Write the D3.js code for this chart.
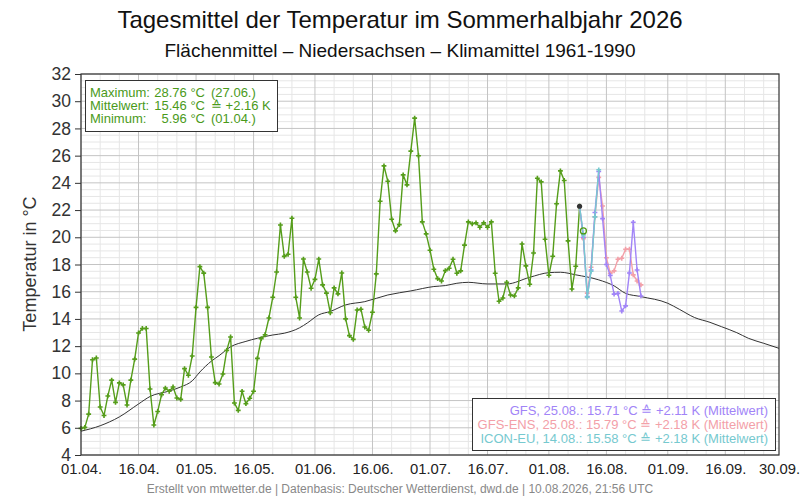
<!DOCTYPE html>
<html><head><meta charset="utf-8">
<script src="https://cdn.jsdelivr.net/npm/d3@7"></script>
<style>
body{margin:0;background:#fff;}
svg text{font-family:"Liberation Sans",Arial,Helvetica,sans-serif;}
</style>
</head><body>
<svg id="c" width="800" height="500"></svg>
<script>
// ---------- data ----------
const startDate = "2026-04-01";
const endDate = "2026-09-30";
const observed = [
  5.96, 6.03, 7.0, 11.0, 11.13, 7.53, 6.9, 8.34, 9.5, 7.87,
  9.3, 9.15, 7.67, 9.5, 11.05, 12.97, 13.3, 13.3, 8.85, 6.2,
  7.2, 8.43, 8.92, 8.68, 9.0, 8.19, 8.09, 10.35, 9.86, 11.28,
  14.85, 17.84, 17.37, 14.85, 11.2, 9.32, 9.22, 9.95, 11.69, 12.67,
  7.82, 7.28, 8.68, 7.77, 8.17, 8.68, 11.1, 12.55, 12.84, 14.07,
  15.59, 17.45, 20.9, 18.6, 18.75, 21.4, 15.59, 14.07, 18.4, 17.45,
  16.25, 16.91, 18.4, 16.5, 15.9, 14.45, 16.28, 15.84, 17.38, 14.0,
  12.77, 12.5, 14.66, 14.71, 13.41, 13.17, 14.49, 17.31, 22.65, 25.25,
  24.12, 21.33, 20.47, 20.93, 24.59, 23.85, 26.33, 28.76, 25.99, 21.13,
  20.25, 19.05, 17.65, 16.96, 16.79, 17.55, 17.72, 18.39, 17.36, 17.53,
  19.42, 21.13, 20.99, 21.06, 20.74, 21.06, 20.74, 21.13, 17.36, 15.3,
  15.54, 16.69, 15.76, 15.69, 16.28, 19.51, 17.9, 16.55, 18.85, 24.34,
  24.07, 19.86, 17.21, 18.61, 22.46, 24.88, 24.17, 19.74, 16.2, 17.87,
  22.28
];
const todayDate = "2026-08-10";
const todayValue = 20.47;
const forecastStart = "2026-08-09";
const gfs    = [22.28, 20.0, 15.64, 17.6, 21.82, 24.83, 21.37, 18.0, 17.2, 15.82, 15.88, 14.58, 14.96, 17.38, 21.1, 17.6, 15.69];
const gfsEns = [22.28, 19.9, 15.9, 17.8, 21.5, 24.4, 22.3, 18.5, 17.36, 17.53, 18.39, 18.46, 19.12, 19.12, 17.24, 16.79, 16.5];
const iconEu = [22.28, 20.18, 15.6, 17.5, 21.5, 24.96];
const climDays   = [0, 5, 10, 15, 18, 23, 26, 29, 31, 34, 36, 39, 43, 46, 50, 53, 57, 59, 62, 65, 69, 74, 80, 86, 92, 95, 98, 101, 106, 111, 117, 122, 125, 129, 135, 139, 142, 146, 153, 156, 160, 164, 167, 171, 174, 178, 182];
const climValues = [5.75, 6.15, 6.8, 7.75, 8.3, 8.7, 9.0, 9.45, 10.1, 10.9, 11.3, 11.95, 12.35, 12.58, 12.82, 12.95, 13.35, 13.7, 14.3, 14.55, 15.03, 15.27, 15.76, 16.06, 16.38, 16.45, 16.62, 16.69, 16.57, 16.57, 17.06, 17.4, 17.43, 17.24, 16.87, 16.43, 15.88, 15.64, 15.15, 14.71, 14.1, 13.75, 13.43, 12.99, 12.58, 12.21, 11.84];
const yTicks = [4, 6, 8, 10, 12, 14, 16, 18, 20, 22, 24, 26, 28, 30, 32];
const xTickDates  = ["2026-04-01","2026-04-16","2026-05-01","2026-05-16","2026-06-01","2026-06-16","2026-07-01","2026-07-16","2026-08-01","2026-08-16","2026-09-01","2026-09-16","2026-09-30"];
const xTickLabels = ["01.04.","16.04.","01.05.","16.05.","01.06.","16.06.","01.07.","16.07.","01.08.","16.08.","01.09.","16.09.","30.09."];
const infoLines = [
  ["Maximum:", "28.76 °C", "(27.06.)"],
  ["Mittelwert:", "15.46 °C", "≙ +2.16 K"],
  ["Minimum:", "5.96 °C", "(01.04.)"]
];
const legendItems = [
  {text: "GFS, 25.08.: 15.71 °C  ≙ +2.11 K (Mittelwert)", color: "#a184f7"},
  {text: "GFS-ENS, 25.08.: 15.79 °C  ≙ +2.18 K (Mittelwert)", color: "#f3a0a8"},
  {text: "ICON-EU, 14.08.: 15.58 °C  ≙ +2.18 K (Mittelwert)", color: "#76c9cf"}
];
const titleText = "Tagesmittel der Temperatur im Sommerhalbjahr 2026";
const subtitleText = "Flächenmittel – Niedersachsen – Klimamittel 1961-1990";
const footerText = "Erstellt von mtwetter.de | Datenbasis: Deutscher Wetterdienst, dwd.de | 10.08.2026, 21:56 UTC";

// ---------- chart ----------
const svg = d3.select("#c");
const L = 81, R = 779, T = 74, B = 455;
const parse = d3.utcParse("%Y-%m-%d");
const d0 = parse(startDate);
const x = d3.scaleUtc().domain([d0, parse(endDate)]).range([L, R]);
const y = d3.scaleLinear().domain([4, 32]).range([B, T]);

svg.append("rect").attr("width", 800).attr("height", 500).attr("fill", "#fff");

// grid
const g = svg.append("g");
const minorH = d3.range(4, 32.001, 0.5).filter(v => v % 2 !== 0);
g.selectAll(".hmin").data(minorH).join("line")
  .attr("x1", L).attr("x2", R).attr("y1", d => y(d)).attr("y2", d => y(d))
  .attr("stroke", "#e6e6e6").attr("stroke-width", 1);
const allDays = d3.utcDay.range(d0, d3.utcDay.offset(parse(endDate), 1));
const minorV = allDays.filter(d => [6, 11, 21, 26].includes(d.getUTCDate()));
const majorV = allDays.filter(d => [1, 16].includes(d.getUTCDate()));
g.selectAll(".vmin").data(minorV).join("line")
  .attr("x1", d => x(d)).attr("x2", d => x(d)).attr("y1", T).attr("y2", B)
  .attr("stroke", "#e6e6e6").attr("stroke-width", 1);
g.selectAll(".hmaj").data(yTicks).join("line")
  .attr("x1", L).attr("x2", R).attr("y1", d => y(d)).attr("y2", d => y(d))
  .attr("stroke", "#c4c4c4").attr("stroke-width", 1);
g.selectAll(".vmaj").data(majorV).join("line")
  .attr("x1", d => x(d)).attr("x2", d => x(d)).attr("y1", T).attr("y2", B)
  .attr("stroke", "#c4c4c4").attr("stroke-width", 1);

// climate line
const clim = climDays.map((dd, i) => ({d: d3.utcDay.offset(d0, dd), v: climValues[i]}));
svg.append("path").datum(clim)
  .attr("d", d3.line().x(p => x(p.d)).y(p => y(p.v)).curve(d3.curveMonotoneX))
  .attr("fill", "none").attr("stroke", "#333").attr("stroke-width", 1);

const cross = d3.symbol().type(d3.symbolCross).size(13);
function series(vals, startStr, color, width) {
  const s = parse(startStr);
  const pts = vals.map((v, i) => ({d: d3.utcDay.offset(s, i), v}));
  const grp = svg.append("g");
  grp.append("path").datum(pts)
    .attr("d", d3.line().x(p => x(p.d)).y(p => y(p.v)))
    .attr("fill", "none").attr("stroke", color).attr("stroke-width", width)
    .attr("stroke-linejoin", "round");
  grp.selectAll("path.m").data(pts.slice(startStr === startDate ? 0 : 1)).join("path")
    .attr("class", "m")
    .attr("transform", p => `translate(${x(p.d)},${y(p.v)})`)
    .attr("d", cross).attr("fill", color);
  return pts;
}
const obsPts = series(observed, startDate, "#559d1a", 1.4);
series(gfsEns, forecastStart, "#f3a0a8", 1.4);
series(gfs, forecastStart, "#a184f7", 1.4);
series(iconEu, forecastStart, "#76c9cf", 1.4);

// last observed point (dark) and today's open circle
const last = obsPts[obsPts.length - 1];
svg.append("circle").attr("cx", x(last.d)).attr("cy", y(last.v)).attr("r", 2.6).attr("fill", "#333");
svg.append("circle").attr("cx", x(parse(todayDate))).attr("cy", y(todayValue)).attr("r", 3)
  .attr("fill", "none").attr("stroke", "#4f9a12").attr("stroke-width", 1.3);

// frame
svg.append("rect").attr("x", L).attr("y", T).attr("width", R - L).attr("height", B - T)
  .attr("fill", "none").attr("stroke", "#333").attr("stroke-width", 1.2);

// axes
const ya = svg.append("g").attr("transform", `translate(${L},0)`)
  .call(d3.axisLeft(y).tickValues(yTicks).tickSize(6).tickPadding(4));
ya.select(".domain").remove();
ya.selectAll("line").attr("stroke", "#333");
ya.selectAll("text").attr("font-size", 17.5).attr("fill", "#333").style("font-family", '"Liberation Sans",Arial,sans-serif');

const xa = svg.append("g").attr("transform", `translate(0,${B})`)
  .call(d3.axisBottom(x).tickValues(xTickDates.map(parse)).tickFormat((d, i) => xTickLabels[i]).tickSize(0).tickPadding(8));
xa.select(".domain").remove();
xa.selectAll("text").attr("font-size", 14.8).attr("fill", "#222").style("font-family", '"Liberation Sans",Arial,sans-serif');

// titles
svg.append("text").attr("x", 400).attr("y", 28).attr("text-anchor", "middle")
  .attr("font-size", 24).attr("fill", "#111").text(titleText);
svg.append("text").attr("x", 400).attr("y", 57).attr("text-anchor", "middle")
  .attr("font-size", 19).attr("fill", "#111").text(subtitleText);
svg.append("text").attr("transform", "translate(36,264) rotate(-90)").attr("text-anchor", "middle")
  .attr("font-size", 18).attr("fill", "#333").text("Temperatur in °C");
svg.append("text").attr("x", 400).attr("y", 493).attr("text-anchor", "middle")
  .attr("font-size", 12).attr("fill", "#888").text(footerText);

// info box
svg.append("rect").attr("x", 85.5).attr("y", 80.5).attr("width", 192).attr("height", 51)
  .attr("fill", "#fff").attr("stroke", "#333").attr("stroke-width", 1);
const info = svg.append("g").attr("font-size", 13).attr("fill", "#4a9a1a");
infoLines.forEach((ln, i) => {
  const yy = 97 + i * 13;
  info.append("text").attr("x", 90).attr("y", yy).text(ln[0]);
  info.append("text").attr("x", 205).attr("y", yy).attr("text-anchor", "end").text(ln[1]);
  info.append("text").attr("x", 211).attr("y", yy).text(ln[2]);
});

// forecast legend
svg.append("rect").attr("x", 472.5).attr("y", 398.5).attr("width", 303).attr("height", 52)
  .attr("fill", "#fff").attr("stroke", "#333").attr("stroke-width", 1);
legendItems.forEach((it, i) => {
  svg.append("text").attr("x", 768).attr("y", 415 + i * 14).attr("text-anchor", "end")
    .attr("font-size", 13).attr("fill", it.color).text(it.text);
});
</script>
</body></html>
